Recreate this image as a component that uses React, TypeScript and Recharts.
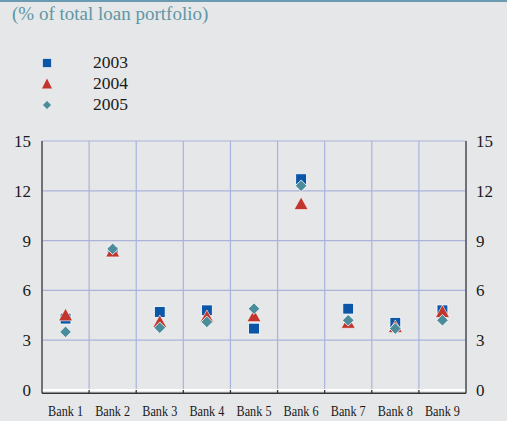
import React from 'react';
import {
  ScatterChart,
  Scatter,
  XAxis,
  YAxis,
  CartesianGrid,
  ReferenceLine,
} from 'recharts';

const banks = ['Bank 1', 'Bank 2', 'Bank 3', 'Bank 4', 'Bank 5', 'Bank 6', 'Bank 7', 'Bank 8', 'Bank 9'];
const v2003 = [4.3, 8.3, 4.7, 4.8, 3.7, 12.7, 4.9, 4.05, 4.8];
const v2004 = [4.5, 8.35, 4.1, 4.4, 4.45, 11.2, 4.05, 3.8, 4.7];
const v2005 = [3.5, 8.5, 3.75, 4.1, 4.9, 12.3, 4.2, 3.7, 4.2];
const yTicks = [0, 3, 6, 9, 12, 15];

const pos = banks.map((_, i) => i + 1);
const bounds = [0.5, ...banks.map((_, i) => i + 1.5)];
const inner = bounds.slice(1, -1);

const toPts = (vals: number[]) => vals.map((v, i) => ({ x: pos[i], y: v }));

const BLUE = '#0b56a6';
const RED = '#c2352c';
const TEAL = '#4b8c9b';
const FONT = "'Liberation Serif'";
const AXIS_DROP = -0.2;

const Square = (p: any) => (
  <rect x={p.cx - 5.4} y={p.cy - 5.4} width={10.8} height={10.8} fill={BLUE} stroke="#ffffff" strokeWidth={0.8} />
);
const Triangle = (p: any) => (
  <path d={`M${p.cx},${p.cy - 7} L${p.cx + 7},${p.cy + 5.5} L${p.cx - 7},${p.cy + 5.5} Z`} fill={RED} stroke="#ffffff" strokeWidth={0.6} />
);
const Diamond = (p: any) => (
  <path d={`M${p.cx},${p.cy - 5.8} L${p.cx + 5.8},${p.cy} L${p.cx},${p.cy + 5.8} L${p.cx - 5.8},${p.cy} Z`} fill={TEAL} stroke="#ffffff" strokeWidth={0.8} />
);

const BankTick = (p: any) => {
  const label = banks[Math.round(p.payload.value) - 1] || '';
  return (
    <text x={p.x} y={p.y + 26} textAnchor="middle" style={{ fontFamily: FONT }} fontSize={15} fill="#1a1a1a" textLength={35} lengthAdjust="spacingAndGlyphs">
      {label}
    </text>
  );
};

const legendItems = [
  { label: '2003', shape: 'sq', y: 63 },
  { label: '2004', shape: 'tri', y: 84 },
  { label: '2005', shape: 'dia', y: 105 },
];

const LegendMarker = ({ shape }: { shape: string }) => (
  <svg width={14} height={14} style={{ position: 'absolute', left: 40, top: -7 }}>
    {shape === 'sq' && <rect x={2.5} y={2.5} width={9} height={9} fill={BLUE} stroke="#fff" strokeWidth={0.6} />}
    {shape === 'tri' && <path d="M7,1.5 L12,11.5 L2,11.5 Z" fill={RED} />}
    {shape === 'dia' && <path d="M7,2.5 L11.5,7 L7,11.5 L2.5,7 Z" fill={TEAL} stroke="#fff" strokeWidth={0.6} />}
  </svg>
);

const yTickStyle = { fontFamily: FONT, fontSize: 17, fill: '#1a1a1a' };

export default function App() {
  return (
    <div style={{ position: 'absolute', left: 0, top: 0, width: 507, height: 421, background: '#e6e7e9', overflow: 'hidden', fontFamily: FONT }}>
      <div style={{ position: 'absolute', left: 0, top: 0, width: 507, height: 2, background: '#6b9bb0' }} />
      <div style={{ position: 'absolute', left: 12, top: 2, fontFamily: FONT, fontSize: 19, color: '#5e97a5', lineHeight: '24px', whiteSpace: 'nowrap' }}>
        (% of total loan portfolio)
      </div>
      {legendItems.map((it) => (
        <div key={it.label} style={{ position: 'absolute', left: 0, top: it.y, width: 200, height: 0 }}>
          <LegendMarker shape={it.shape} />
          <div style={{ position: 'absolute', left: 93, top: -12, fontFamily: FONT, fontSize: 17.5, color: '#1a1a1a', lineHeight: '22px' }}>
            {it.label}
          </div>
        </div>
      ))}
      <div style={{ position: 'absolute', left: 0, top: 0 }}>
        <ScatterChart width={507} height={421} margin={{ top: 141, right: 0, bottom: 0, left: 0 }} style={{ fontFamily: FONT }}>
          <XAxis
            xAxisId="lab"
            type="number"
            dataKey="x"
            domain={[0.5, 9.5]}
            ticks={pos}
            height={31}
            axisLine={false}
            tickLine={false}
            tickSize={0}
            tickMargin={0}
            interval={0}
            tick={<BankTick />}
          />
          <XAxis xAxisId="grid" type="number" dataKey="x" domain={[0.5, 9.5]} ticks={inner} height={0} hide allowDataOverflow />
          <YAxis
            yAxisId="L"
            type="number"
            dataKey="y"
            domain={[0, 15]}
            ticks={yTicks}
            width={42}
            axisLine={{ stroke: '#555', strokeWidth: 1.5 }}
            tickLine={false}
            tickSize={8}
            tickMargin={3}
            tick={yTickStyle}
          />
          <YAxis
            yAxisId="R"
            orientation="right"
            type="number"
            dataKey="y"
            domain={[0, 15]}
            ticks={yTicks}
            width={41}
            axisLine={{ stroke: '#555', strokeWidth: 1.5 }}
            tickLine={false}
            tickSize={8}
            tickMargin={2}
            tick={{ ...yTickStyle, textAnchor: 'start' }}
          />
          <CartesianGrid xAxisId="grid" yAxisId="L" stroke="#aab3dc" strokeWidth={1.2} />
          <ReferenceLine xAxisId="lab" yAxisId="L" y={0} stroke="#ffffff" strokeWidth={2} />
          <ReferenceLine xAxisId="lab" yAxisId="L" y={AXIS_DROP} ifOverflow="visible" stroke="#333" strokeWidth={1.5} />
          {bounds.map((b) => (
            <ReferenceLine
              key={b}
              xAxisId="lab"
              yAxisId="L"
              ifOverflow="visible"
              segment={[{ x: b, y: AXIS_DROP }, { x: b, y: 0 }]}
              stroke="#333"
              strokeWidth={1.3}
            />
          ))}
          <Scatter xAxisId="lab" yAxisId="L" name="2003" data={toPts(v2003)} shape={<Square />} isAnimationActive={false} />
          <Scatter xAxisId="lab" yAxisId="R" name="2004" data={toPts(v2004)} shape={<Triangle />} isAnimationActive={false} />
          <Scatter xAxisId="grid" yAxisId="L" name="2005" data={toPts(v2005)} shape={<Diamond />} isAnimationActive={false} />
        </ScatterChart>
      </div>
    </div>
  );
}
